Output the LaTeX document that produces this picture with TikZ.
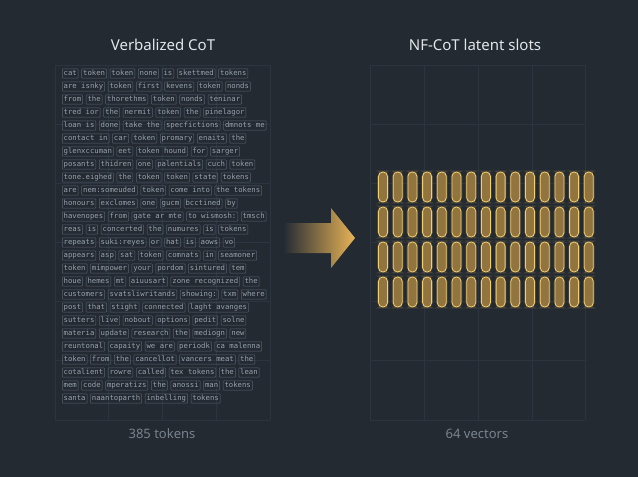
\documentclass[tikz,border=0pt]{standalone}
\usepackage{fontspec}
\setmainfont{Noto Sans}
\setmonofont{DejaVu Sans Mono}
\definecolor{bg}{HTML}{232A32}
\definecolor{gridc}{HTML}{2C353F}
\definecolor{tokb}{HTML}{56606B}
\definecolor{tokt}{HTML}{98A1AB}
\definecolor{ttl}{HTML}{E2E6EA}
\definecolor{sub}{HTML}{7A838D}
\definecolor{gold}{HTML}{E8B457}
\definecolor{slotf}{HTML}{92743F}
\definecolor{slotd}{HTML}{F2CF72}
\tikzset{
 tok/.style={draw=tokb,line width=0.5pt,text=tokt,font=\ttfamily\fontsize{7.3}{8}\selectfont,inner xsep=1.4pt,inner ysep=1.3pt,text height=5.3pt,text depth=1.3pt,rounded corners=0.6pt},
 slot/.style={draw=slotd,fill=slotf,line width=0.8pt,rounded corners=4.3pt},
 glow/.style={draw=gold!60!bg,line width=2.6pt,rounded corners=5pt},
 ttlst/.style={text=ttl,font=\fontsize{15}{17}\selectfont},
 subst/.style={text=sub,font=\fontsize{13}{15}\selectfont}
}
\newcommand{\tokrow}[3]{%
 \foreach \t [count=\i] in {#3}{%
  \ifnum\i=1
   \node[tok,anchor=west] (r#1t\i) at (62,#2) {\t};
  \else
   \pgfmathtruncatemacro\pj{\i-1}
   \node[tok,anchor=west] (r#1t\i) at ([xshift=3pt]r#1t\pj.east) {\t};
  \fi}}
\begin{document}
\begin{tikzpicture}[x=1pt,y=-1pt]
\fill[bg] (0,0) rectangle (638,477);
\useasboundingbox (0,0) rectangle (638,477);
% grid
\foreach \x in {55,108,162,216,270,370,424,478,532,585}
  \draw[gridc,line width=0.6pt] (\x,65) -- (\x,420);
\foreach \y in {65,124,183,242,301,360,420}{
  \draw[gridc,line width=0.6pt] (55,\y) -- (270,\y);
  \draw[gridc,line width=0.6pt] (370,\y) -- (585,\y);}
\node[ttlst] (tl) at (163,45) {Verbalized CoT};
\node[ttlst] (tr) at (475,45) {NF-CoT latent slots};
\node[subst] (sl) at (162,434) {385 tokens};
\node[subst] (sr) at (477,434) {64 vectors};
\tokrow{1}{73.5}{cat,token,token,none,is,skettmed,tokens}
\tokrow{2}{86.5}{are isnky,token,first,kevens,token,nonds}
\tokrow{3}{99.5}{from,the,thorethms,token,nonds,teninar}
\tokrow{4}{112.5}{tred ior,the,nermit,token,the,pinelagor}
\tokrow{5}{125.5}{loan is,done,take the,specfictions,dmnots me}
\tokrow{6}{138.5}{contact in,car,token,promary,enaits,the}
\tokrow{7}{151.5}{glenxccuman,eet,token hound,for,sarger}
\tokrow{8}{164.5}{posants,thidren,one,palentials,cuch,token}
\tokrow{9}{177.5}{tone.eighed,the,token,token,state,tokens}
\tokrow{10}{190.5}{are,nem:someuded,token,come into,the tokens}
\tokrow{11}{203.5}{honours,exclomes,one,gucm,bcctined,by}
\tokrow{12}{216.5}{havenopes,from,gate ar mte,to wismosh:,tmsch}
\tokrow{13}{229.5}{reas,is,concerted,the,numures,is,tokens}
\tokrow{14}{242.5}{repeats,suki:reyes,or,hat,is,aows,vo}
\tokrow{15}{255.5}{appears,asp,sat,token,comnats,in,seamoner}
\tokrow{16}{268.5}{token,mimpower,your,pordom,sintured,tem}
\tokrow{17}{281.5}{houe,hemes,mt,aiuusart,zone recognized,the}
\tokrow{18}{294.5}{customers,svatsliwritands,showing:,txm,where}
\tokrow{19}{307.5}{post,that,stight,connected,laght avanges}
\tokrow{20}{320.5}{sutters,live,nobout,options,pedit,solne}
\tokrow{21}{333.5}{materia,update,research,the,mediogn,new}
\tokrow{22}{346.5}{reuntonal,capaity,we are,periodk,ca malenna}
\tokrow{23}{359.5}{token,from,the,cancellot,vancers meat,the}
\tokrow{24}{372.5}{cotalient,rowre,called,tex tokens,the,lean}
\tokrow{25}{385.5}{mem,code,mperatizs,the,anossi,man,tokens}
\tokrow{26}{398.5}{santa,naantoparth,inbelling,tokens}
% arrow
\shade[left color=bg,right color=gold] (283,223) -- (331,223) -- (331,208) -- (355,238) -- (331,268) -- (331,253) -- (283,253) -- cycle;
% slots
\foreach \r [count=\ri] in {172,207,242,277}
 \foreach \c in {0,...,14}{
  \draw[glow,opacity=0.35] (378.5+\c*14.7,\r) rectangle ++(9,30);
  \draw[slot] (378.5+\c*14.7,\r) rectangle ++(9,30) node[coordinate] (s\ri-\c) {};}
\end{tikzpicture}
\end{document}
